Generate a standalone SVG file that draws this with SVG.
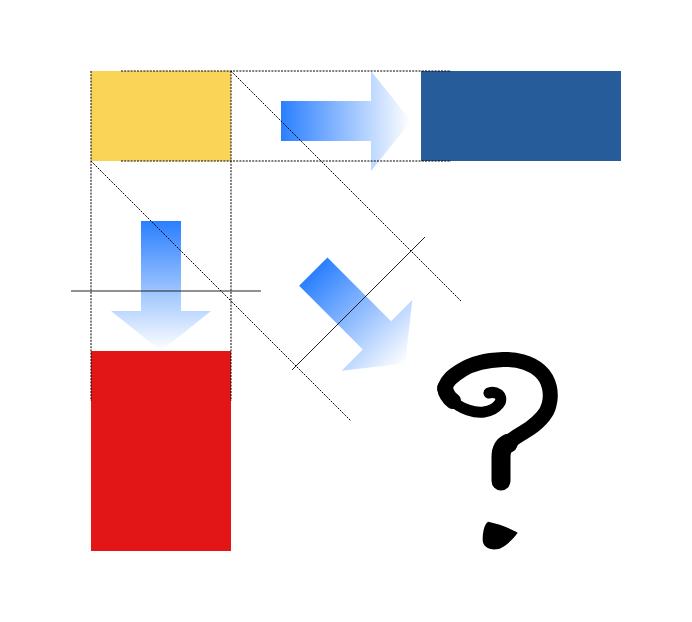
<svg xmlns="http://www.w3.org/2000/svg" width="692" height="622" viewBox="0 0 692 622">
<style>
.dash{stroke:#000;stroke-width:1;stroke-dasharray:2 1.2;fill:none}
.solid{stroke:#222;stroke-width:1;fill:none}
.arrow{fill:url(#ag)}
.q{fill:none;stroke:#000;stroke-linecap:round;stroke-linejoin:round}
</style>
<defs>
<linearGradient id="ag" gradientUnits="userSpaceOnUse" x1="0" y1="0" x2="130" y2="0">
<stop offset="0" stop-color="#2a7fff"/>
<stop offset="1" stop-color="#ffffff"/>
</linearGradient>
<path id="arr" d="M0,-20 H90 V-50 L130,0 L90,50 V20 H0 Z"/>
</defs>
<rect width="692" height="622" fill="#fff"/>
<g id="yellow"><rect x="91" y="71" width="140" height="90" fill="#f9d456"/></g>
<g id="blue"><rect x="421" y="71" width="200" height="90" fill="#265c9a"/></g>
<g id="red"><rect x="91" y="351" width="140" height="200" fill="#e21616"/></g>
<g id="connectors">
<use href="#arr" class="arrow" transform="translate(281,121)"/>
<use href="#arr" class="arrow" transform="translate(161,221) rotate(90)"/>
<use href="#arr" class="arrow" transform="translate(313.3,271.7) rotate(45)"/>
</g>
<g id="guides">
<line class="dash" x1="121" y1="71" x2="451" y2="71"/>
<line class="dash" x1="121" y1="161" x2="451" y2="161"/>
<line class="dash" x1="91" y1="71" x2="91" y2="401"/>
<line class="dash" x1="231" y1="71" x2="231" y2="401"/>
<line class="dash" x1="231" y1="71" x2="461" y2="301"/>
<line class="dash" x1="91" y1="161" x2="351" y2="421"/>
<line class="solid" x1="71" y1="291" x2="261" y2="291"/>
<line class="solid" x1="292" y1="370" x2="425" y2="237"/>
</g>
<g id="question">
<path class="q" stroke-width="19" d="M501,481 V457 C501,450 503,446 508.3,443.3"/>
<path class="q" stroke-width="15" d="M508.3,443.3 C515,436 525,432 530,428.3 C540,421 547,414 549,405 C552,394 550,380 540,371 C530,362 515,359 503,359.5 C488,360 473,363 462,370 C452,376 445,382 445,390"/>
<path class="q" stroke-width="16" d="M445,388 C446,394 449,398 453,401"/>
<path class="q" stroke-width="11" d="M450,398 C455,404 462,408 468,410 C474,412 478,413 484,412 C491,411 496,408 499,404 C502,400 501,396 498,394 C495,392 492,392 489,393"/>
<path fill="#000" d="M488.3,521.7 C500,524 511,529 517.7,532.7 C511,542 502,549 496.7,549.3 C488,550 482,546 482.7,538.3 C483,530 485,523 488.3,521.7 Z"/>
</g>
</svg>
